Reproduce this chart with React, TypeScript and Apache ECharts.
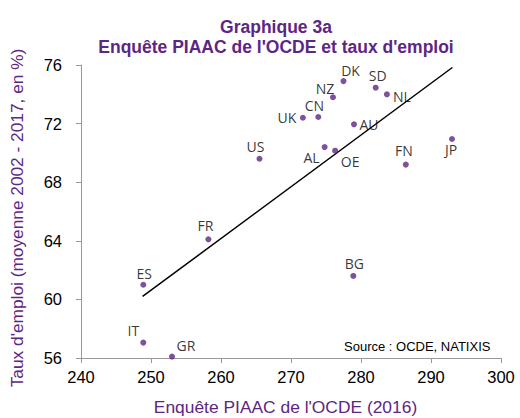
import React, { useEffect, useRef } from "react";
import * as echarts from "echarts";

const countries = ["DK", "SD", "NL", "NZ", "CN", "UK", "AU", "US", "AL", "OE", "FN", "JP", "FR", "BG", "ES", "IT", "GR"];
const piaacScores = [277.5, 282.1, 283.7, 276.0, 273.9, 271.7, 279.0, 265.5, 274.8, 276.3, 286.4, 293.0, 258.2, 278.9, 248.9, 248.9, 253.0];
const employmentRates = [74.9, 74.45, 74.0, 73.8, 72.45, 72.4, 71.95, 69.6, 70.4, 70.15, 69.2, 70.95, 64.1, 61.6, 61.0, 57.05, 56.1];
const trendX = [248.8, 293.05];
const trendY = [60.2, 75.83];
const xTicks = [240, 250, 260, 270, 280, 290, 300];
const yTicks = [56, 60, 64, 68, 72, 76];

const titleLines = ["Graphique 3a", "Enquête PIAAC de l'OCDE et taux d'emploi"];
const xAxisName = "Enquête PIAAC de l'OCDE (2016)";
const yAxisName = "Taux d'emploi (moyenne 2002 - 2017, en %)";
const sourceText = "Source : OCDE, NATIXIS";

// label placement (style): offset of label centre from dot, in px
const labelOffsets: Record<string, [number, number]> = {
  DK: [7, -11], SD: [2, -12], NL: [15, 2], NZ: [-8, -9], CN: [-4, -12], UK: [-16, 0],
  AU: [15, 0], US: [-4, -12], AL: [-13, 10], OE: [15, 11], FN: [-2, -14], JP: [-1, 11],
  FR: [-3, -14], BG: [1, -12], ES: [1, -11], IT: [-10, -12], GR: [14, -11],
};

const PURPLE = "#5E2684";
const ARIAL = "Liberation Sans, Arial, sans-serif";

export default function App() {
  const ref = useRef<HTMLDivElement>(null);
  useEffect(() => {
    if (!ref.current) return;
    const chart = echarts.init(ref.current, null, { renderer: "svg" });
    const points = countries.map((c, i) => ({
      name: c,
      value: [piaacScores[i], employmentRates[i]],
      label: { offset: labelOffsets[c] },
    }));
    chart.setOption({
      animation: false,
      backgroundColor: "#ffffff",
      title: {
        text: titleLines.join("\n"),
        left: 271,
        textAlign: "center",
        top: 12,
        textStyle: {
          color: PURPLE,
          fontFamily: ARIAL,
          fontWeight: "bold",
          fontSize: 17.5,
          lineHeight: 20,
        },
      },
      grid: { left: 81, right: 19, top: 65, bottom: 60, containLabel: false },
      xAxis: {
        type: "value",
        min: xTicks[0],
        max: xTicks[xTicks.length - 1],
        interval: 10,
        axisLine: { show: true, lineStyle: { color: "#999999", width: 1 } },
        axisTick: { show: true, inside: false, length: 5, lineStyle: { color: "#999999" } },
        axisLabel: { color: "#000000", fontSize: 16.5, margin: 10, fontFamily: ARIAL },
        splitLine: { show: false },
      },
      yAxis: {
        type: "value",
        min: yTicks[0],
        max: yTicks[yTicks.length - 1],
        interval: 4,
        axisLine: { show: true, lineStyle: { color: "#999999", width: 1 } },
        axisTick: { show: true, inside: false, length: 5, lineStyle: { color: "#999999" } },
        axisLabel: { color: "#000000", fontSize: 16.5, margin: 19, fontFamily: ARIAL },
        splitLine: { show: false },
      },
      graphic: [
        {
          type: "text",
          x: 285.5,
          y: 407,
          style: {
            text: xAxisName,
            fill: PURPLE,
            fontSize: 17.4,
            fontFamily: ARIAL,
            textAlign: "center",
            textVerticalAlign: "middle",
          },
        },
        {
          type: "text",
          x: 17,
          y: 218,
          rotation: Math.PI / 2,
          style: {
            text: yAxisName,
            fill: PURPLE,
            fontSize: 17.3,
            fontFamily: ARIAL,
            textAlign: "center",
            textVerticalAlign: "middle",
          },
        },
        {
          type: "text",
          x: 344,
          y: 346,
          style: {
            text: sourceText,
            fill: "#000000",
            fontSize: 13,
            fontFamily: ARIAL,
            textVerticalAlign: "middle",
          },
        },
      ],
      series: [
        {
          type: "line",
          data: trendX.map((x, i) => [x, trendY[i]]),
          symbol: "none",
          lineStyle: { color: "#000000", width: 1.5 },
          silent: true,
          z: 1,
        },
        {
          type: "scatter",
          data: points,
          symbolSize: 6,
          itemStyle: { color: PURPLE },
          z: 3,
          label: {
            show: true,
            position: "inside",
            formatter: "{b}",
            color: "#000000",
            fontSize: 14,
            fontFamily: "Open Sans, sans-serif",
          },
        },
      ],
    });
    return () => chart.dispose();
  }, []);
  return (
    <div
      ref={ref}
      style={{ position: "fixed", left: 0, top: 0, width: 520, height: 418, background: "#fff" }}
    />
  );
}
